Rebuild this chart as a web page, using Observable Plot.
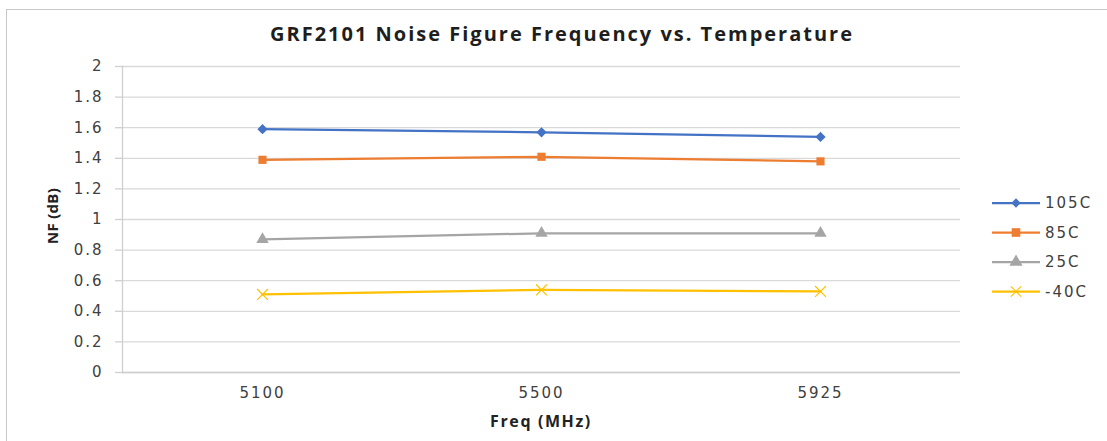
<!DOCTYPE html>
<html>
<head>
<meta charset="utf-8">
<script src="https://cdn.jsdelivr.net/npm/d3@7"></script>
<script src="https://cdn.jsdelivr.net/npm/@observablehq/plot@0.6"></script>
<style>
  html, body { margin: 0; padding: 0; background: #fff; }
  #wrap { position: relative; width: 1107px; height: 441px; overflow: hidden; background: #fff; }
  #border { position: absolute; left: 6px; top: 9px; width: 1200px; height: 600px; border: 1px solid #c8c8c8; }
  #title { position: absolute; left: 0; width: 1124px; top: 20px; text-align: center;
           font-family: "Open Sans", sans-serif; font-weight: bold; font-size: 20px; letter-spacing: 2px; color: #1e1e1e; }
  #ylabel { position: absolute; left: 52px; top: 216px; transform: translate(-50%, -50%) rotate(-90deg);
            font-family: "Open Sans", sans-serif; font-weight: bold; font-size: 15px; letter-spacing: 0.3px; color: #222; white-space: nowrap; }
  #xlabel { position: absolute; left: 541px; top: 421px; transform: translate(-50%, -50%);
            font-family: "Open Sans", sans-serif; font-weight: bold; font-size: 16px; letter-spacing: 1.6px; color: #222; white-space: nowrap; }
  #chart { position: absolute; left: 0; top: 0; }
  #legend { position: absolute; left: 985px; top: 185px; }
</style>
</head>
<body>
<div id="wrap">
  <div id="border"></div>
  <div id="chart"></div>
  <div id="title">GRF2101 Noise Figure Frequency vs. Temperature</div>
  <div id="ylabel">NF (dB)</div>
  <div id="xlabel">Freq (MHz)</div>
  <div id="legend"></div>
</div>
<script>
// ---- data ----
const freqs = ["5100", "5500", "5925"];
const seriesNames = ["105C", "85C", "25C", "-40C"];
const nf105 = [1.59, 1.57, 1.54];
const nf85 = [1.39, 1.41, 1.38];
const nf25 = [0.87, 0.91, 0.91];
const nfMinus40 = [0.51, 0.54, 0.53];
const seriesColors = ["#4472C4", "#ED7D31", "#A5A5A5", "#FFC000"];
const seriesSymbols = ["diamond2", "square", "triangle", "times"];
const yTicks = [0, 0.2, 0.4, 0.6, 0.8, 1, 1.2, 1.4, 1.6, 1.8, 2];

const allValues = [nf105, nf85, nf25, nfMinus40];
const rows = [];
seriesNames.forEach((s, i) => freqs.forEach((f, j) => rows.push({series: s, freq: f, nf: allValues[i][j]})));

const tickFont = "DejaVu Sans, sans-serif";

const plot = Plot.plot({
  width: 1107,
  height: 441,
  marginLeft: 122,
  marginRight: 147,
  marginTop: 66,
  marginBottom: 69,
  style: {fontFamily: tickFont, fontSize: "15px", color: "#444", background: "transparent", overflow: "visible"},
  x: {type: "point", domain: freqs, padding: 0.5},
  y: {domain: [0, 2]},
  color: {domain: seriesNames, range: seriesColors},
  symbol: {domain: seriesNames, range: seriesSymbols},
  marks: [
    Plot.ruleY(yTicks, {stroke: "#d9d9d9", strokeWidth: 1.3}),
    Plot.ruleY([0], {stroke: "#cfcfcf", strokeWidth: 1.3}),
    Plot.frame({anchor: "left", stroke: "#cfcfcf", strokeWidth: 1.3}),
    Plot.axisY({ticks: yTicks, tickSize: 7, tickPadding: 12, stroke: "#cfcfcf", strokeWidth: 1.3,
      tickFormat: d => String(+d.toFixed(1)), label: null, fill: "#404040",
      fontFamily: tickFont, fontSize: 15}),
    Plot.axisX({tickSize: 0, tickPadding: 15, label: null, fill: "#404040", fontFamily: tickFont, fontSize: 15}),
    Plot.line(rows, {x: "freq", y: "nf", z: "series", stroke: "series", strokeWidth: 2.25}),
    Plot.dot(rows.filter(d => d.series !== "-40C"), {x: "freq", y: "nf", fill: "series", symbol: "series", r: 4.6, stroke: "none"}),
    Plot.dot(rows.filter(d => d.series === "-40C"), {x: "freq", y: "nf", stroke: "series", symbol: "series", r: 5, strokeWidth: 1.2})
  ]
});
document.getElementById("chart").appendChild(plot);
d3.select(plot).selectAll("text").attr("letter-spacing", "2px");

// ---- legend ----
const lg = d3.select("#legend").append("svg").attr("width", 122).attr("height", 120);
const symbolMap = {diamond2: d3.symbolDiamond2, square: d3.symbolSquare, triangle: d3.symbolTriangle, times: d3.symbolTimes};
seriesNames.forEach((s, i) => {
  const y = 18 + i * 29.5;
  const g = lg.append("g").attr("transform", `translate(0,${y})`);
  g.append("line").attr("x1", 7).attr("x2", 55).attr("y1", 0).attr("y2", 0)
    .attr("stroke", seriesColors[i]).attr("stroke-width", 2.25);
  const sym = seriesSymbols[i];
  const size = sym === "diamond2" ? 55 : sym === "times" ? 70 : 75;
  g.append("path").attr("d", d3.symbol(symbolMap[sym], size)()).attr("transform", "translate(31,0)")
    .attr("fill", sym === "times" ? "none" : seriesColors[i])
    .attr("stroke", sym === "times" ? seriesColors[i] : "none").attr("stroke-width", 1.2);
  g.append("text").attr("x", 60).attr("y", 0).attr("dy", "0.35em").text(s)
    .attr("font-family", tickFont).attr("font-size", 15).attr("letter-spacing", "2px").attr("fill", "#404040");
});
</script>
</body>
</html>
